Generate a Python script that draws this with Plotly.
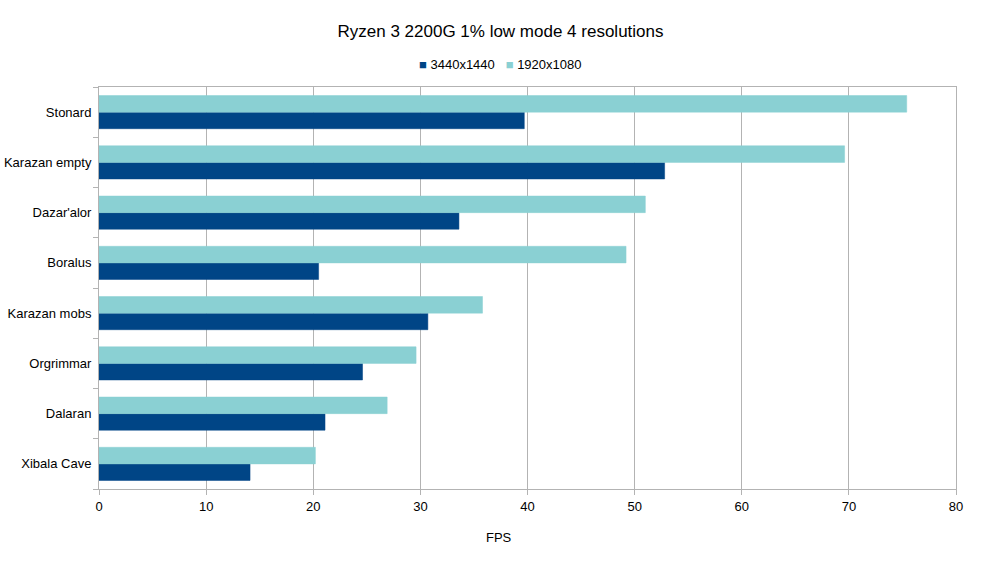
import plotly.graph_objects as go

categories = ["Stonard", "Karazan empty", "Dazar'alor", "Boralus", "Karazan mobs", "Orgrimmar", "Dalaran", "Xibala Cave"]
fps_3440 = [39.7, 52.8, 33.6, 20.5, 30.7, 24.6, 21.1, 14.1]
fps_1920 = [75.4, 69.6, 51.0, 49.2, 35.8, 29.6, 26.9, 20.2]
x_ticks = [0, 10, 20, 30, 40, 50, 60, 70, 80]
series_names = ["3440x1440", "1920x1080"]
series_colors = ["#004586", "#8ad0d3"]

fig = go.Figure()
fig.add_trace(go.Bar(y=categories, x=fps_3440, name=series_names[0], orientation="h",
                     marker=dict(color=series_colors[0], line=dict(color=series_colors[0], width=0.5))))
fig.add_trace(go.Bar(y=categories, x=fps_1920, name=series_names[1], orientation="h",
                     marker=dict(color=series_colors[1], line=dict(color=series_colors[1], width=0.5))))

legend_text = "&nbsp;&nbsp;&nbsp;".join(
    f"<span style='color:{c};font-size:13px'>■</span> {n}" for n, c in zip(series_names, series_colors)
)

fig.update_layout(
    width=1001, height=563,
    paper_bgcolor="white", plot_bgcolor="white",
    font=dict(family="Liberation Sans, Arial, sans-serif", size=13, color="black"),
    title=dict(text="Ryzen 3 2200G 1% low mode 4 resolutions", x=0.5, xanchor="center",
               y=1 - 31/563, yanchor="middle", font=dict(size=17)),
    barmode="group", bargap=0.34, bargroupgap=0,
    margin=dict(l=99, r=45, t=87, b=74, autoexpand=False),
    showlegend=False,
    annotations=[
        dict(text=legend_text, xref="paper", yref="paper", x=0.468, y=1 + 23/402,
             xanchor="center", yanchor="middle", showarrow=False, font=dict(size=13)),
        dict(text="FPS", xref="paper", yref="paper", x=0.467, y=-48/402,
             xanchor="center", yanchor="middle", showarrow=False, font=dict(size=13)),
    ],
)
fig.update_xaxes(range=[0, 80], tickvals=x_ticks, showgrid=True, gridcolor="#b3b3b3", gridwidth=1,
                 zeroline=False, showline=True, linecolor="#b3b3b3", mirror=True,
                 ticks="outside", ticklen=5, tickcolor="#b3b3b3", automargin=False)
fig.update_yaxes(categoryorder="array", categoryarray=list(reversed(categories)),
                 showgrid=False, showline=True, linecolor="#b3b3b3", mirror=True,
                 ticks="outside", ticklen=5, tickcolor="#b3b3b3", tickson="boundaries",
                 ticklabelstandoff=4, automargin=False)

fig.write_html("out.html", config={"displayModeBar": False},
               post_script="document.body.style.margin='0';")
